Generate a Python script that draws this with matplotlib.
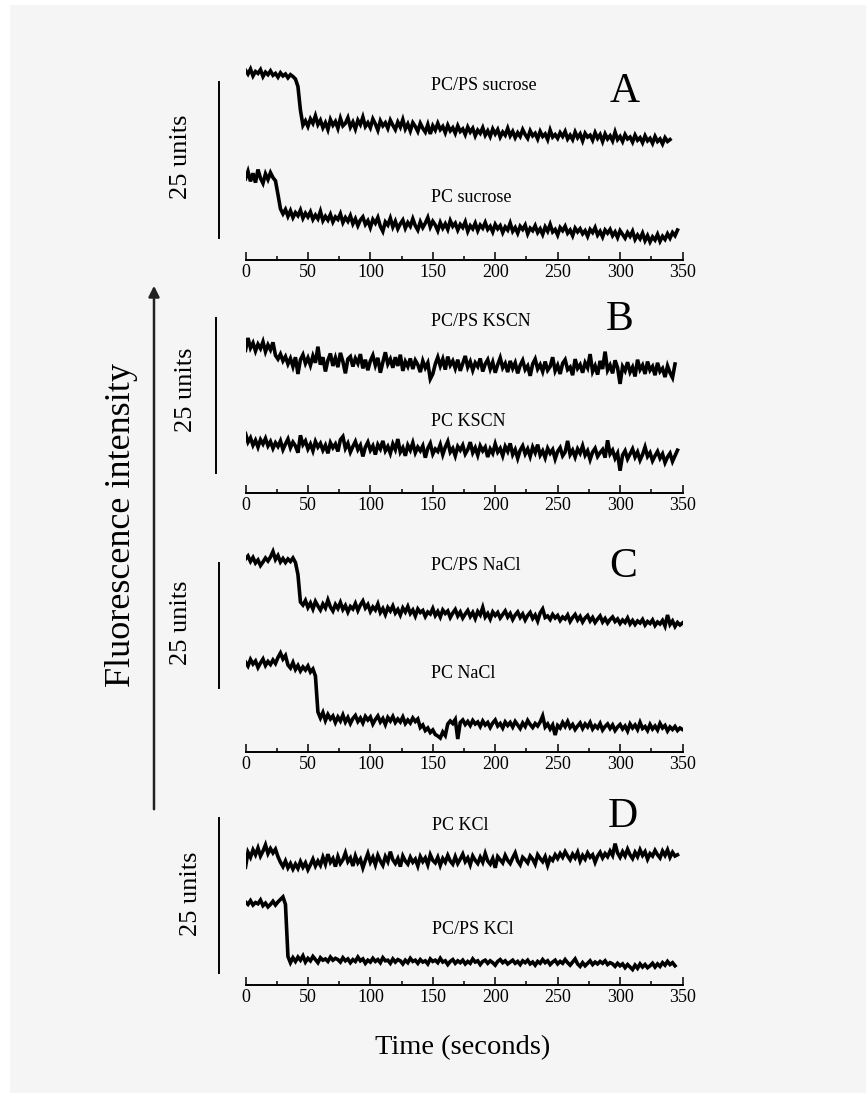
import numpy as np
import matplotlib
matplotlib.use("Agg")
import matplotlib.pyplot as plt
from matplotlib.patches import Rectangle, FancyArrowPatch
from matplotlib.ticker import MultipleLocator

plt.rcParams['font.family'] = ['Liberation Serif', 'DejaVu Serif']

# ---------------- data (fluorescence, arbitrary units; time step 2 s) ----------------
dt = 2.0
x_ticks = [0, 50, 100, 150, 200, 250, 300, 350]
panel_letters = ["A", "B", "C", "D"]
panel_labels = [("PC/PS sucrose", "PC sucrose"), ("PC/PS KSCN", "PC KSCN"),
                ("PC/PS NaCl", "PC NaCl"), ("PC KCl", "PC/PS KCl")]
scale_units = 25

pcps_sucrose = [30.4, 29.8, 30.6, 29.5, 30.2, 29.9, 30.5, 29.4, 30.1, 29.7, 30.3, 29.6, 29.9, 29.3, 30.0, 29.5, 29.8, 29.2, 29.7, 29.4,
                29.0, 27.8, 24.0, 21.6, 22.3, 21.4, 22.6, 21.9, 23.1, 21.7, 22.4, 21.2, 22.0, 20.9, 22.5, 21.6, 22.2, 21.1, 22.7, 21.5,
                21.9, 22.8, 21.3, 22.1, 21.0, 22.4, 21.7, 22.9, 21.4, 22.0, 21.2, 22.6, 21.8, 20.8, 22.3, 21.5, 22.0, 21.1, 22.4, 21.6,
                20.9, 22.1, 21.3, 22.5, 21.0, 21.8, 20.7, 22.0, 21.4, 20.6, 21.9, 21.1, 20.5, 21.7, 20.2, 21.5, 20.8, 21.9, 20.9, 21.4,
                20.4, 21.6, 20.7, 21.2, 20.3, 21.5, 20.6, 21.0, 20.1, 21.3, 20.5, 21.1, 19.9, 20.8, 20.3, 21.2, 20.0, 20.7, 19.8, 21.0,
                20.2, 20.9, 19.7, 20.5, 20.0, 21.1, 19.9, 20.6, 19.6, 20.4, 19.8, 20.9, 20.1, 19.5, 20.7, 19.9, 20.3, 19.4, 20.6, 19.8,
                20.2, 19.3, 20.8, 19.7, 20.1, 19.5, 20.4, 19.8, 20.6, 19.4, 20.0, 19.3, 20.5, 19.6, 20.2, 19.1, 20.3, 19.7, 20.0, 19.2,
                20.4, 19.5, 20.1, 19.0, 20.2, 19.4, 19.9, 19.1, 20.5, 19.3, 19.8, 19.0, 20.1, 19.4, 19.7, 18.9, 20.0, 19.2, 19.6, 18.8,
                19.9, 19.1, 19.5, 18.7, 19.8, 19.0, 19.4, 18.6, 19.6, 19.0, 19.3]

pc_sucrose = [13.0, 14.2, 12.6, 13.9, 12.4, 14.5, 13.1, 12.3, 13.8, 12.9, 14.0, 13.2, 12.7, 10.5, 8.2, 7.4, 8.1, 7.0, 7.9, 6.8,
              7.6, 7.1, 8.0, 6.7, 7.5, 6.9, 7.7, 6.5, 7.2, 6.6, 7.8, 6.3, 7.0, 6.4, 7.3, 6.1, 6.9, 6.5, 7.4, 6.0,
              6.8, 6.2, 7.1, 5.8, 6.6, 5.5, 6.4, 6.9, 5.7, 6.3, 5.2, 6.5, 5.9, 6.8, 5.4, 4.6, 6.1, 5.6, 6.7, 5.3,
              6.2, 5.0, 5.8, 6.4, 5.1, 6.0, 5.4, 6.6, 5.5, 4.8, 6.1, 5.2, 5.9, 6.8, 5.3, 6.2, 5.6, 4.7, 6.0, 5.1,
              5.8, 4.9, 6.3, 5.4, 5.9, 4.8, 5.7, 5.2, 6.1, 4.6, 5.5, 5.0, 5.9, 4.7, 5.6, 5.1, 6.0, 4.9, 5.4, 4.5,
              5.7, 5.0, 5.5, 4.4, 5.3, 4.8, 5.9, 4.6, 5.2, 4.3, 5.4, 4.9, 5.6, 4.2, 5.1, 4.7, 5.5, 4.4, 5.0, 4.1,
              5.3, 4.6, 5.7, 4.5, 4.9, 4.0, 5.2, 4.7, 5.4, 4.3, 4.8, 3.9, 5.1, 4.5, 5.0, 4.2, 4.7, 3.8, 4.9, 4.4,
              5.2, 4.0, 4.6, 3.7, 4.8, 4.3, 4.9, 3.9, 4.5, 3.6, 4.7, 4.1, 3.5, 4.4, 3.8, 4.6, 3.3, 4.0, 3.4, 4.3,
              3.1, 3.9, 2.9, 3.7, 3.2, 4.1, 3.0, 3.8, 3.3, 4.2, 3.5, 4.4, 3.9, 4.8]

pcps_kscn = [23.0, 25.0, 23.4, 24.2, 22.9, 24.0, 23.3, 24.4, 22.8, 23.9, 23.1, 24.3, 22.2, 21.6, 22.4, 21.3, 22.0, 20.8, 21.7, 20.4,
             21.9, 19.2, 21.5, 22.3, 20.9, 21.8, 20.6, 22.1, 21.0, 23.6, 20.7, 21.9, 19.6, 21.4, 22.5, 20.5, 21.8, 20.3, 22.6, 21.2,
             19.3, 21.6, 22.0, 20.4, 21.7, 20.9, 22.4, 20.1, 21.5, 19.8, 21.3, 22.2, 20.6, 21.8, 19.4, 21.1, 22.7, 20.8, 21.6, 20.2,
             21.9, 20.5, 22.3, 19.7, 21.2, 20.4, 21.7, 20.0, 21.4, 20.7, 19.5, 21.3, 20.2, 21.0, 18.4, 19.2, 20.8, 21.9, 20.5, 21.6,
             19.9, 22.0, 20.6, 21.3, 20.1, 21.5, 19.7, 20.9, 22.1, 20.3, 21.2, 19.8, 21.0, 20.4, 21.7, 19.6, 20.8, 21.5, 20.0, 21.1,
             19.4, 20.7, 21.8, 20.2, 20.9, 19.5, 21.3, 20.1, 21.0, 19.3, 20.6, 21.4, 19.9, 20.5, 18.9, 20.8, 21.6, 20.0, 20.7, 19.6,
             21.2, 19.8, 20.4, 21.9, 19.7, 20.6, 19.2, 20.9, 21.5, 19.9, 20.3, 19.0, 21.6, 20.1, 20.7, 19.4, 21.0, 20.2, 22.4, 19.6,
             20.5, 19.1, 21.3, 20.0, 22.8, 19.8, 20.6, 19.3, 21.4, 20.2, 17.6, 20.4, 19.7, 21.1, 19.5, 20.3, 18.8, 21.5, 19.9, 20.6,
             19.2, 21.2, 19.8, 20.4, 19.0, 21.0, 19.6, 20.1, 18.7, 20.5, 19.4, 18.6, 20.8]

pc_kscn = [9.6, 8.2, 8.9, 7.7, 8.5, 7.4, 8.6, 7.9, 8.8, 7.6, 8.3, 7.2, 8.1, 7.5, 8.4, 7.0, 7.9, 8.7, 7.3, 8.2,
           7.6, 6.5, 9.3, 7.8, 8.4, 7.1, 7.9, 6.8, 8.3, 7.4, 8.0, 6.9, 7.7, 6.4, 8.1, 7.3, 7.9, 6.7, 8.6, 9.1,
           7.2, 8.0, 6.6, 7.5, 8.3, 7.0, 7.7, 5.9, 7.4, 8.2, 6.9, 7.6, 6.2, 7.8, 7.1, 8.4, 6.8, 7.5, 6.4, 7.9,
           7.0, 8.7, 6.6, 7.3, 6.0, 7.7, 6.9, 8.1, 6.5, 7.4, 6.8, 7.6, 5.7, 7.2, 8.0, 6.3, 7.1, 6.7, 7.8, 6.2,
           7.4, 8.3, 6.6, 7.2, 6.0, 7.5, 6.9, 7.7, 6.3, 7.0, 8.2, 6.5, 7.3, 6.1, 7.6, 6.8, 7.4, 5.8, 7.1, 6.4,
           7.9, 6.6, 7.2, 6.0, 7.5, 6.7, 8.0, 6.2, 7.0, 5.6, 6.9, 7.6, 6.3, 7.1, 5.9, 7.4, 6.5, 7.8, 6.1, 6.8,
           5.7, 7.2, 6.4, 7.0, 5.5, 6.7, 7.3, 6.0, 6.6, 8.4, 6.2, 6.9, 5.8, 7.1, 6.4, 7.6, 6.1, 6.8, 5.4, 6.6,
           7.2, 5.9, 6.5, 7.0, 5.7, 8.5, 6.3, 6.9, 5.6, 6.4, 3.6, 6.1, 6.8, 5.5, 6.3, 7.1, 5.8, 6.6, 5.3, 6.2,
           7.4, 5.9, 6.5, 5.2, 6.0, 6.7, 5.6, 6.3, 4.9, 5.8, 6.4, 5.1, 6.0, 6.9]

pcps_nacl = [38.6, 39.2, 38.1, 38.9, 37.8, 38.4, 37.3, 38.0, 38.8, 38.2, 39.0, 40.1, 38.5, 39.3, 38.0, 38.7, 37.9, 38.6, 38.1, 38.8,
             37.9, 35.5, 30.0, 29.4, 30.3, 28.9, 29.8, 28.6, 30.1, 29.2, 28.4, 29.6, 28.8, 30.4, 29.0, 28.2, 29.5, 28.7, 29.9, 28.5,
             29.3, 28.0, 29.1, 28.6, 29.7, 28.3, 29.4, 30.2, 28.8, 29.5, 28.1, 29.0, 28.4, 29.6, 27.9, 28.7, 27.5, 28.9, 28.2, 29.2,
             27.8, 28.5, 27.4, 28.8, 28.0, 29.1, 27.7, 28.4, 27.2, 28.6, 27.9, 28.3, 27.1, 28.0, 27.6, 28.7, 27.3, 28.1, 27.0, 28.4,
             27.7, 28.2, 26.9, 27.8, 28.5, 27.2, 28.0, 26.8, 27.6, 28.3, 27.1, 27.9, 26.7, 28.1, 27.4, 28.9, 27.0, 27.7, 26.6, 28.0,
             27.3, 27.9, 26.8, 27.5, 28.2, 27.0, 27.7, 26.5, 27.4, 28.0, 26.9, 27.6, 26.4, 27.3, 27.9, 26.7, 27.4, 26.2, 27.8, 28.6,
             26.9, 27.2, 26.5, 27.5, 26.8, 27.3, 26.3, 27.0, 26.6, 27.4, 26.1, 26.9, 27.5, 26.4, 27.1, 26.0, 26.8, 27.3, 26.2, 26.9,
             25.9, 26.6, 27.2, 26.0, 26.7, 25.8, 26.5, 27.0, 26.1, 26.6, 25.7, 26.4, 25.9, 26.8, 25.6, 26.3, 25.5, 26.2, 25.8, 26.5,
             25.4, 26.1, 25.7, 26.4, 25.3, 26.0, 25.6, 26.3, 25.2, 27.4, 25.5, 26.2, 25.1, 25.9, 25.4, 25.8]

pc_nacl = [18.0, 17.2, 18.5, 17.6, 18.2, 16.9, 17.8, 18.6, 17.3, 18.1, 17.5, 18.4, 17.7, 18.9, 19.8, 18.6, 19.3, 17.4, 16.8, 17.9,
           16.5, 17.3, 16.2, 17.0, 16.4, 17.2, 16.0, 16.6, 15.2, 8.0, 6.8, 7.9, 6.3, 7.5, 6.6, 7.2, 5.9, 7.0, 6.2, 7.4,
           6.0, 6.9, 5.7, 6.7, 7.3, 6.1, 6.8, 5.8, 7.1, 6.4, 7.0, 5.6, 6.5, 7.2, 6.0, 6.7, 5.5, 6.9, 6.2, 7.1,
           5.9, 6.6, 6.0, 7.0, 5.7, 6.4, 5.8, 6.8, 6.1, 6.6, 4.9, 5.4, 4.3, 4.8, 3.9, 4.4, 3.5, 3.2, 2.8, 4.0,
           3.3, 5.6, 6.2, 5.7, 6.5, 2.6, 5.9, 6.4, 5.5, 6.1, 5.3, 6.3, 5.6, 6.0, 5.1, 6.2, 5.4, 5.9, 4.9, 5.8,
           6.4, 5.2, 5.7, 4.8, 6.0, 5.3, 5.9, 5.0, 6.1, 5.4, 4.7, 5.8, 5.1, 6.3, 5.5, 4.9, 5.7, 5.2, 6.0, 7.2,
           5.0, 5.6, 4.6, 5.4, 3.4, 5.3, 4.8, 5.9, 5.1, 6.1, 4.9, 5.5, 4.5, 5.2, 5.8, 4.7, 5.6, 5.0, 5.9, 4.6,
           5.3, 4.8, 5.7, 4.4, 5.1, 5.6, 4.7, 5.4, 4.3, 5.0, 5.5, 4.6, 5.2, 4.2, 5.6, 4.8, 5.4, 4.5, 5.9, 4.7,
           5.1, 4.3, 5.5, 4.6, 5.2, 4.4, 5.7, 4.8, 5.3, 4.2, 5.0, 4.5, 5.1, 4.3, 4.8, 4.5]

pc_kcl = [19.0, 21.4, 20.6, 21.8, 21.0, 22.1, 20.8, 21.6, 22.6, 21.2, 22.0, 21.3, 21.9, 20.7, 19.8, 19.1, 20.0, 18.9, 19.6, 18.7,
          19.5, 18.8, 19.9, 19.0, 19.7, 18.6, 19.4, 20.3, 19.2, 20.0, 19.3, 20.6, 19.5, 21.1, 19.8, 20.4, 19.1, 20.7, 19.6, 20.2,
          21.3, 19.9, 20.5, 19.2, 20.8, 19.7, 20.3, 18.9, 20.1, 21.2, 19.8, 20.6, 19.4, 20.9, 20.0, 19.3, 20.7, 19.9, 21.5, 20.2,
          19.6, 20.4, 19.1, 20.8, 20.0, 19.5, 20.6, 19.8, 20.3, 19.2, 20.7, 19.9, 20.5, 19.4, 21.0, 20.1, 19.7, 20.6, 19.3, 20.4,
          19.8, 20.9, 20.0, 19.5, 20.7, 19.6, 20.3, 21.1, 19.9, 20.5, 19.4, 20.8, 20.1, 19.6, 20.6, 19.8, 21.2, 20.0, 19.5, 20.4,
          18.9, 20.7, 20.2, 19.7, 20.9, 20.1, 19.6, 20.5, 21.3, 20.0, 19.4, 20.6, 20.2, 19.7, 20.8, 20.3, 19.5, 21.0, 20.4, 19.9,
          20.7, 19.3, 20.5, 20.1, 21.0, 20.4, 21.2, 20.6, 21.5, 20.8, 20.2, 21.1, 20.5, 21.4, 20.0, 20.9, 20.3, 21.3, 20.6, 21.0,
          19.8, 20.8, 21.4, 20.5, 21.2, 20.7, 21.6, 20.9, 22.8, 21.3, 20.6, 21.5, 20.8, 21.9, 21.0, 20.4, 21.4, 20.7, 21.8, 20.9,
          21.5, 20.3, 21.2, 20.8, 21.7, 21.0, 20.5, 21.6, 20.9, 21.8, 20.6, 21.4, 20.8, 21.0]

pcps_kcl = [13.4, 13.0, 13.6, 12.9, 13.3, 13.1, 13.7, 12.8, 13.2, 12.6, 13.0, 13.5, 12.9, 13.4, 13.8, 14.2, 13.0, 4.6, 3.6, 4.4,
            3.8, 4.5, 4.0, 4.7, 3.7, 4.3, 3.9, 4.6, 4.1, 3.6, 4.4, 4.0, 4.2, 3.8, 4.5, 4.0, 4.3, 4.1, 3.7, 4.4,
            3.9, 4.2, 3.6, 4.1, 3.8, 4.5, 3.9, 4.2, 3.5, 4.0, 3.7, 4.3, 3.8, 4.1, 3.6, 4.4, 3.9, 4.0, 3.5, 4.2,
            3.7, 4.1, 3.9, 3.4, 4.0, 3.6, 4.3, 3.8, 4.0, 3.5, 4.1, 3.7, 3.9, 3.4, 4.2, 3.8, 4.0, 3.6, 4.3, 3.7,
            3.9, 3.3, 3.8, 4.1, 3.5, 3.9, 3.6, 4.0, 3.4, 3.8, 3.5, 4.2, 3.7, 3.9, 3.3, 3.8, 4.0, 3.5, 3.9, 3.6,
            3.2, 3.8, 4.1, 3.6, 3.9, 3.4, 3.7, 4.0, 3.5, 3.8, 3.3, 3.9, 3.6, 4.0, 3.4, 3.7, 3.2, 3.8, 3.5, 4.1,
            3.6, 3.9, 3.3, 3.7, 4.0, 3.4, 3.8, 3.5, 4.1, 3.6, 3.2, 3.7, 4.2, 3.4, 3.0, 3.6, 3.1, 3.5, 3.9, 3.3,
            3.7, 3.4, 3.8, 3.5, 3.9, 3.3, 3.6, 3.4, 3.0, 3.5, 3.1, 3.4, 2.8, 3.3, 2.9, 2.5, 3.2, 2.7, 3.4, 2.9,
            3.3, 2.8, 3.1, 3.5, 2.9, 3.4, 3.0, 3.6, 3.2, 3.8, 3.3, 3.6, 3.1]

panel_traces = [(pcps_sucrose, pc_sucrose), (pcps_kscn, pc_kscn),
                (pcps_nacl, pc_nacl), (pc_kcl, pcps_kcl)]

# ---------------- layout (pixel geometry of the reference) ----------------
W, H = 866, 1093
DPI = 100
fig = plt.figure(figsize=(W / DPI, H / DPI), dpi=DPI, facecolor="white")
fig.add_artist(Rectangle((10 / W, 0), 1 - 10 / W, 1 - 5 / H, transform=fig.transFigure,
                         facecolor="#f5f5f5", edgecolor="none", zorder=-10))

X0, X1 = 245.5, 682.5
# (baseline px, top px, px per unit, scale-bar x px, scale-bar bottom px, "25 units" text center)
geom = [
    (260, 60, 6.24, 219, 238, (181, 157)),
    (493, 300, 6.20, 216, 473, (186, 390)),
    (752, 540, 5.00, 219, 688, (181, 623)),
    (985, 810, 6.20, 219, 973, (191, 894)),
]
label_pos = [((431, 85), (431, 198), (625, 92)),
             ((431, 322), (431, 421), (620, 320)),
             ((431, 566), (431, 673), (623, 567)),
             ((432, 826), (432, 930), (623, 817))]


def fx(px):
    return px / W


def fy(py):
    return 1 - py / H


for i in range(4):
    base, top, ppu, sbx, sbb, txt = geom[i]
    ax = fig.add_axes([fx(X0), fy(base), (X1 - X0) / W, (base - top) / H])
    ax.set_facecolor("none")
    ax.set_xlim(0, 350)
    ax.set_ylim(0, (base - top) / ppu)
    for tr in panel_traces[i]:
        t = np.arange(len(tr)) * dt
        ax.plot(t, tr, color="black", lw=2.6, solid_joinstyle="miter")
    for s in ["top", "right", "left"]:
        ax.spines[s].set_visible(False)
    ax.spines["bottom"].set_linewidth(1.4)
    ax.set_yticks([])
    ax.set_xticks(x_ticks)
    ax.xaxis.set_minor_locator(MultipleLocator(25))
    ax.tick_params(axis="x", which="major", direction="in", length=5.5, width=1.1,
                   labelsize=13, pad=3)
    ax.tick_params(axis="x", which="minor", direction="in", length=3, width=1.1)
    # scale bar: 25 units in data scale
    sb_x = (sbx - X0) / (X1 - X0) * 350
    sb_y0 = (base - sbb) / ppu
    ax.plot([sb_x, sb_x], [sb_y0, sb_y0 + scale_units], color="black", lw=1.4, clip_on=False)
    fig.text(fx(txt[0]), fy(txt[1]), f"{scale_units} units", rotation=90,
             ha="center", va="center", fontsize=19)
    (l1, l2, lt) = label_pos[i]
    fig.text(fx(l1[0]), fy(l1[1]), panel_labels[i][0], ha="left", va="center", fontsize=13)
    fig.text(fx(l2[0]), fy(l2[1]), panel_labels[i][1], ha="left", va="center", fontsize=13)
    fig.text(fx(lt[0]), fy(lt[1]), panel_letters[i], ha="center", va="center", fontsize=30)

# big arrow and axis titles
fig.add_artist(FancyArrowPatch((fx(154), fy(812)), (fx(154), fy(283)), transform=fig.transFigure,
                               arrowstyle="-|>", mutation_scale=16, lw=1.8, color="#222222"))
fig.text(fx(122), fy(525), "Fluorescence intensity", rotation=90, ha="center", va="center", fontsize=26)
fig.text(fx(463), fy(1048), "Time (seconds)", ha="center", va="center", fontsize=20.5)

fig.savefig("out.png", dpi=DPI, facecolor=fig.get_facecolor())
